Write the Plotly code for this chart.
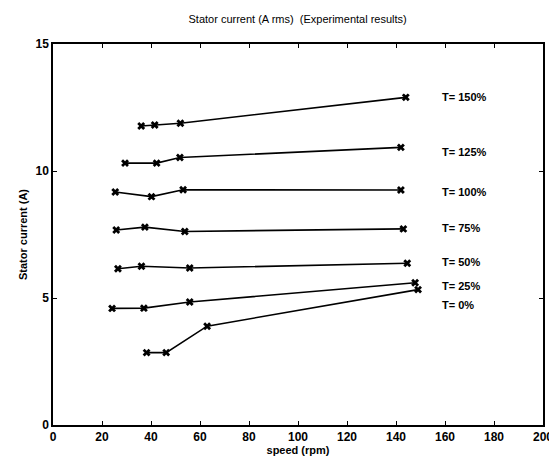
import plotly.graph_objects as go

# speed (rpm) and stator current (A) per torque level
labels = ["T= 150%", "T= 125%", "T= 100%", "T= 75%", "T= 50%", "T= 25%", "T= 0%"]
speed_150 = [36, 41.5, 52, 144]
curr_150 = [11.77, 11.81, 11.88, 12.9]
speed_125 = [29.4, 42.3, 51.8, 142]
curr_125 = [10.31, 10.31, 10.53, 10.93]
speed_100 = [25.4, 40.2, 53.1, 142]
curr_100 = [9.17, 8.99, 9.26, 9.25]
speed_75 = [25.8, 37.5, 53.8, 143]
curr_75 = [7.68, 7.79, 7.62, 7.72]
speed_50 = [26.5, 36.1, 55.8, 144.6]
curr_50 = [6.15, 6.25, 6.18, 6.37]
speed_25 = [24.1, 37.1, 55.8, 147.8]
curr_25 = [4.59, 4.6, 4.84, 5.6]
speed_0 = [38.2, 46.2, 62.9, 149]
curr_0 = [2.85, 2.85, 3.89, 5.33]

x_ticks = [0, 20, 40, 60, 80, 100, 120, 140, 160, 180, 200]
y_ticks = [0, 5, 10, 15]

series = [(speed_150, curr_150), (speed_125, curr_125), (speed_100, curr_100),
          (speed_75, curr_75), (speed_50, curr_50), (speed_25, curr_25), (speed_0, curr_0)]

# label anchor positions (data coords)
label_x = 158
label_y = [12.9, 10.74, 9.17, 7.75, 6.4, 5.49, 4.72]

FONT = "Liberation Sans, Arial"

fig = go.Figure()
for (xs, ys), name in zip(series, labels):
    fig.add_trace(go.Scatter(
        x=xs, y=ys, mode="lines+markers", name=name,
        line=dict(color="black", width=1.6),
        marker=dict(symbol="x", size=7, color="black", line=dict(width=0)),
        showlegend=False,
    ))

for name, ly in zip(labels, label_y):
    fig.add_annotation(x=label_x, y=ly, text="<b>" + name + "</b>", showarrow=False,
                       xanchor="left", yanchor="middle",
                       font=dict(family=FONT, size=11, color="black"))

axis_common = dict(
    showline=True, linecolor="black", linewidth=1.5, mirror="ticks",
    ticks="inside", ticklen=4, tickcolor="black", tickwidth=1,
    showgrid=False, zeroline=False,
    tickfont=dict(family=FONT, size=12, color="black", weight="bold"),
)

fig.update_layout(
    width=557, height=456,
    paper_bgcolor="white", plot_bgcolor="white",
    margin=dict(l=45, r=14, t=36, b=29),
    title=dict(text="Stator current (A rms)  (Experimental results)",
               x=0.52, xanchor="center", y=0.975, yanchor="middle",
               font=dict(family=FONT, size=11, color="black")),
    xaxis=dict(range=[0, 200], tickvals=x_ticks, title=dict(text="<b>speed (rpm)</b>", standoff=0,
               font=dict(family=FONT, size=11, color="black")), **axis_common),
    yaxis=dict(range=[0, 15], tickvals=y_ticks, title=dict(text="<b>Stator current (A)</b>", standoff=6,
               font=dict(family=FONT, size=11, color="black")), **axis_common),
)

fig.write_html("out.html")
